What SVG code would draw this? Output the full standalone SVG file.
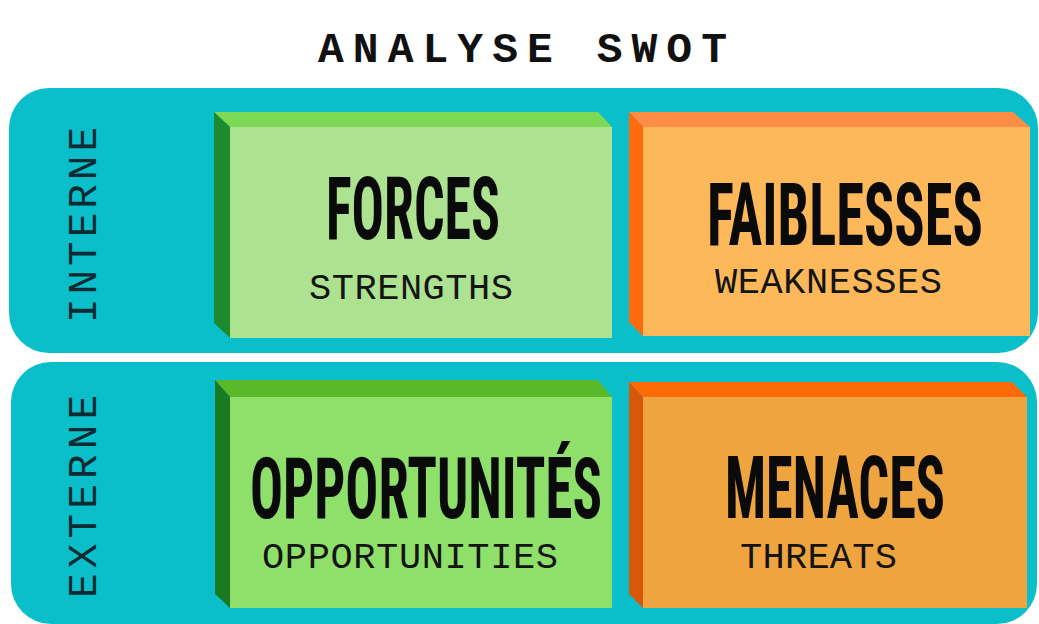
<svg xmlns="http://www.w3.org/2000/svg" width="1039" height="624" viewBox="0 0 1039 624">
  <style>
    .band { fill: #0bbfca; }
    .title { font-family: "Liberation Mono", "DejaVu Sans Mono", monospace; font-weight: bold; font-size: 43px; fill: #111; }
    .side { font-family: "Liberation Mono", "DejaVu Sans Mono", monospace; font-size: 41px; fill: #0d2a33; }
    .head { font-family: "Liberation Sans Narrow", "Roboto Condensed", "Liberation Sans", Arial, sans-serif; font-weight: bold; font-size: 44px; fill: #0a0a0a; }
    .sub { font-family: "Liberation Mono", "DejaVu Sans Mono", monospace; font-size: 37px; fill: #141414; }
  </style>

  <rect width="1039" height="624" fill="#ffffff"/>

  <!-- title -->
  <text class="title" x="318" y="62" textLength="409" lengthAdjust="spacing">ANALYSE SWOT</text>

  <!-- row bands -->
  <g id="band-interne">
    <rect class="band" x="9" y="88" width="1029" height="265" rx="40" ry="40"/>
    <text class="side" transform="translate(96,323) rotate(-90)" textLength="196" lengthAdjust="spacing">INTERNE</text>
  </g>
  <g id="band-externe">
    <rect class="band" x="11" y="362" width="1026" height="262" rx="40" ry="40"/>
    <text class="side" transform="translate(96,598) rotate(-90)" textLength="203" lengthAdjust="spacing">EXTERNE</text>
  </g>

  <!-- strengths: headings are drawn tall and narrow by a vertical stretch -->
  <g id="forces">
    <polygon points="214,112 598,112 612,127 230,127" fill="#7ed957"/>
    <polygon points="214,112 230,127 230,338 214,323" fill="#1e8a2e"/>
    <rect x="230" y="127" width="382" height="211" fill="#ade290"/>
    <text class="head" transform="translate(326,239) scale(1,1.97)" textLength="174" lengthAdjust="spacingAndGlyphs">FORCES</text>
    <text class="sub" x="309" y="299" textLength="204" lengthAdjust="spacing">STRENGTHS</text>
  </g>

  <!-- weaknesses -->
  <g id="faiblesses">
    <polygon points="629,112 1013,112 1030,127 643,127" fill="#fd8d45"/>
    <polygon points="629,112 643,127 643,336 629,322" fill="#ff6a0d"/>
    <rect x="643" y="127" width="387" height="209" fill="#fdb85a"/>
    <text class="head" transform="translate(707,245) scale(1,1.97)" textLength="276" lengthAdjust="spacingAndGlyphs">FAIBLESSES</text>
    <text class="sub" x="715" y="293" textLength="227" lengthAdjust="spacing">WEAKNESSES</text>
  </g>

  <!-- opportunities -->
  <g id="opportunites">
    <polygon points="215,380 598,380 612,397 230,397" fill="#5bb82a"/>
    <polygon points="215,380 230,397 230,608 215,594" fill="#1a7a24"/>
    <rect x="230" y="397" width="382" height="211" fill="#8fe06a"/>
    <text class="head" transform="translate(250,518) scale(1,1.93)" textLength="352" lengthAdjust="spacingAndGlyphs">OPPORTUNITÉS</text>
    <text class="sub" x="262" y="568" textLength="296" lengthAdjust="spacing">OPPORTUNITIES</text>
  </g>

  <!-- threats -->
  <g id="menaces">
    <polygon points="629,382 1012,382 1027,397 643,397" fill="#ff6a08"/>
    <polygon points="629,382 643,397 643,608 629,594" fill="#d8580a"/>
    <rect x="643" y="397" width="384" height="211" fill="#eea53f"/>
    <text class="head" transform="translate(725,518) scale(1,1.97)" textLength="220" lengthAdjust="spacingAndGlyphs">MENACES</text>
    <text class="sub" x="740" y="568" textLength="157" lengthAdjust="spacing">THREATS</text>
  </g>

  <g id="connectors"/>
</svg>
